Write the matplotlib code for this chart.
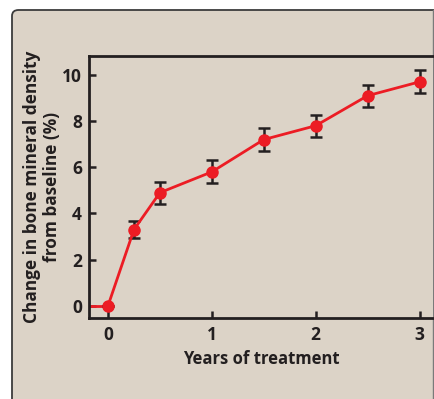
import matplotlib
matplotlib.use("Agg")
import matplotlib.pyplot as plt
from matplotlib.patches import FancyBboxPatch
from matplotlib.lines import Line2D

# data
years = [0, 0.25, 0.5, 1, 1.5, 2, 2.5, 3]
bmd_change = [0, 3.3, 4.9, 5.8, 7.2, 7.8, 9.1, 9.7]
bmd_err = [0, 0.36, 0.47, 0.5, 0.5, 0.48, 0.48, 0.5]
xticks = [0, 1, 2, 3]
yticks = [0, 2, 4, 6, 8, 10]

bg = "#dcd3c7"
ink = "#231f20"
red = "#ec1c24"

plt.rcParams["font.family"] = ["Open Sans", "DejaVu Sans"]
plt.rcParams["font.weight"] = "bold"

W, H = 434, 399
fig = plt.figure(figsize=(W / 100, H / 100), dpi=100)
fig.patch.set_facecolor("white")

# panel box, rounded top-left corner, cut by the right edge
box = FancyBboxPatch((12 / W, -0.2), 0.99, (H - 10) / H + 0.2,
                     boxstyle="round,pad=0,rounding_size=0.015",
                     transform=fig.transFigure, facecolor=bg,
                     edgecolor="#3c3c3c", linewidth=1.3, zorder=-10)
fig.patches.append(box)
fig.lines.append(Line2D([433 / W, 433 / W], [0, (H - 10) / H],
                        transform=fig.transFigure, color="#7a7a7a",
                        lw=1, zorder=-5))

ax = fig.add_axes([89 / W, 1 - 318 / H, (433 - 89) / W, (318 - 56) / H])
ax.set_facecolor(bg)

ax.set_xlim(-0.183, 3.13)
ax.set_ylim(-0.53, 10.82)

# short baseline segment left of first point
ax.plot([ax.get_xlim()[0], years[0]], [bmd_change[0], bmd_change[0]],
        color=red, lw=2, zorder=2)
ax.errorbar(years, bmd_change, yerr=bmd_err, fmt="none", ecolor=ink,
            elinewidth=1.8, capsize=4, capthick=1.8, zorder=3)
ax.plot(years, bmd_change, color=red, lw=2, marker="o", markersize=8,
        zorder=4)

ax.set_xticks(xticks)
ax.set_yticks(yticks)
ax.tick_params(direction="in", length=5, width=1.8, colors=ink,
               labelsize=12.5)
ax.tick_params(axis="y", pad=5)
ax.tick_params(axis="x", pad=6)
for lab in ax.get_xticklabels() + ax.get_yticklabels():
    lab.set_fontweight("bold")

for side in ["left", "bottom", "top"]:
    ax.spines[side].set_linewidth(2)
    ax.spines[side].set_color(ink)
ax.spines["right"].set_visible(False)

ax.set_xlabel("Years of treatment", fontsize=12, fontweight="bold",
              color=ink, labelpad=4)
ax.set_ylabel("Change in bone mineral density\nfrom baseline (%)",
              fontsize=12.4, fontweight="bold", color=ink, labelpad=1,
              linespacing=1.15)

fig.savefig("out.png", dpi=100, facecolor="white")
